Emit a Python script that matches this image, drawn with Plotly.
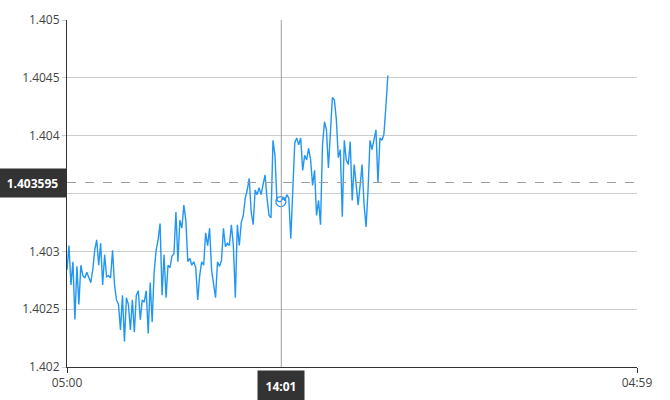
import pandas as pd
import plotly.graph_objects as go

start_time = "2024-01-01 05:00"
end_time = "2024-01-02 04:59"
interval = "5min"

prices = [
    1.40284, 1.40305, 1.40271, 1.40291, 1.40241, 1.40287, 1.40254, 1.40288, 1.40279, 1.40277,
    1.40282, 1.40277, 1.40273, 1.40284, 1.40301, 1.40310, 1.40288, 1.40307, 1.40271, 1.40297,
    1.40278, 1.40279, 1.40277, 1.40301, 1.40271, 1.40258, 1.40254, 1.40232, 1.40262, 1.40222,
    1.40260, 1.40254, 1.40232, 1.40258, 1.40230, 1.40262, 1.40266, 1.40241, 1.40258, 1.40256,
    1.40266, 1.40229, 1.40273, 1.40239, 1.40282, 1.40301, 1.40310, 1.40324, 1.40262, 1.40297,
    1.40260, 1.40288, 1.40286, 1.40296, 1.40298, 1.40334, 1.40291, 1.40327, 1.40320, 1.40340,
    1.40327, 1.40291, 1.40294, 1.40288, 1.40291, 1.40286, 1.40258, 1.40279, 1.40291, 1.40288,
    1.40316, 1.40305, 1.40320, 1.40284, 1.40273, 1.40260, 1.40291, 1.40287, 1.40292, 1.40320,
    1.40304, 1.40307, 1.40305, 1.40323, 1.40305, 1.40260, 1.40323, 1.40305, 1.40325, 1.40331,
    1.40346, 1.40353, 1.40363, 1.40334, 1.40323, 1.40353, 1.40349, 1.40355, 1.40349, 1.40357,
    1.40366, 1.40346, 1.40331, 1.40329, 1.40396, 1.40383, 1.40344, 1.40343, 1.40343, 1.40346,
    1.40344, 1.40349, 1.40346, 1.40311, 1.40357, 1.40394, 1.40398, 1.40392, 1.40398, 1.40370,
    1.40383, 1.40379, 1.40389, 1.40379, 1.40357, 1.40370, 1.40331, 1.40344, 1.40323, 1.40392,
    1.40412, 1.40405, 1.40372, 1.40407, 1.40433, 1.40431, 1.40414, 1.40381, 1.40388, 1.40330,
    1.40396, 1.40379, 1.40375, 1.40395, 1.40344, 1.40375, 1.40357, 1.40340, 1.40357, 1.40375,
    1.40340, 1.40321, 1.40353, 1.40396, 1.40388, 1.40398, 1.40405, 1.40359, 1.40398, 1.40396,
    1.40401, 1.40425, 1.40452,
]

y_ticks = [1.402, 1.4025, 1.403, 1.4035, 1.404, 1.4045, 1.405]
# the 1.4035 label sits under the crosshair price box in the reference
y_tick_labels = ["1.402", "1.4025", "1.403", "", "1.404", "1.4045", "1.405"]
x_tick_labels = ["05:00", "04:59"]

cursor_time = "2024-01-01 14:01"
cursor_time_label = "14:01"
cursor_price = 1.403595
cursor_price_label = "1.403595"
hover_index = 108

times = pd.date_range(start=start_time, periods=len(prices), freq=interval)

LINE = "#2196F3"
FONT = "Open Sans, Segoe UI, sans-serif"

fig = go.Figure()
fig.add_trace(go.Scatter(
    x=times, y=prices, mode="lines",
    line=dict(color=LINE, width=1.4),
    hoverinfo="skip", showlegend=False,
))
fig.add_trace(go.Scatter(
    x=[times[hover_index]], y=[prices[hover_index]], mode="markers",
    marker=dict(symbol="circle-open", size=10, color=LINE, line=dict(width=1.3, color=LINE)),
    hoverinfo="skip", showlegend=False,
))

# crosshair lines
fig.add_shape(type="line", xref="x", yref="paper", x0=cursor_time, x1=cursor_time, y0=0, y1=1,
              line=dict(color="#9e9e9e", width=1))
fig.add_shape(type="line", xref="paper", yref="y", x0=0, x1=1, y0=cursor_price, y1=cursor_price,
              line=dict(color="#9e9e9e", width=1, dash="dash"))

# crosshair labels
fig.add_annotation(xref="x", yref="paper", x=cursor_time, y=0, yanchor="top", yshift=-3,
                   text="<b>" + cursor_time_label + "</b>", showarrow=False, bgcolor="#333333",
                   width=44, height=28, font=dict(color="white", size=12, family=FONT))
fig.add_annotation(xref="paper", yref="y", x=0, xanchor="right", y=cursor_price,
                   text="<b>" + cursor_price_label + "</b>", showarrow=False, bgcolor="#333333",
                   width=65, height=26, font=dict(color="white", size=12, family=FONT))

fig.update_layout(
    width=670, height=400,
    margin=dict(l=67, r=33, t=20, b=33, autoexpand=False),
    paper_bgcolor="white", plot_bgcolor="white",
    font=dict(family=FONT, size=12, color="#444444"),
    showlegend=False,
)
fig.update_xaxes(
    range=[start_time, end_time],
    tickvals=[start_time, end_time], ticktext=x_tick_labels,
    showgrid=False, zeroline=False, automargin=False,
    showline=True, linecolor="#333333", linewidth=1,
    ticks="outside", ticklen=5, tickcolor="#333333",
    tickfont=dict(size=12, color="#444444"),
)
fig.update_yaxes(
    range=[1.402, 1.405],
    tickvals=y_ticks, ticktext=y_tick_labels,
    showgrid=True, gridcolor="#cccccc", gridwidth=1, zeroline=False, automargin=False,
    showline=True, linecolor="#333333", linewidth=1,
    ticks="outside", ticklen=4, tickcolor="#cccccc",
    tickfont=dict(size=12, color="#444444"),
)

fig.write_html(
    "out.html",
    config={"displayModeBar": False},
    post_script="document.body.style.margin='0';document.body.style.overflow='hidden';",
)
